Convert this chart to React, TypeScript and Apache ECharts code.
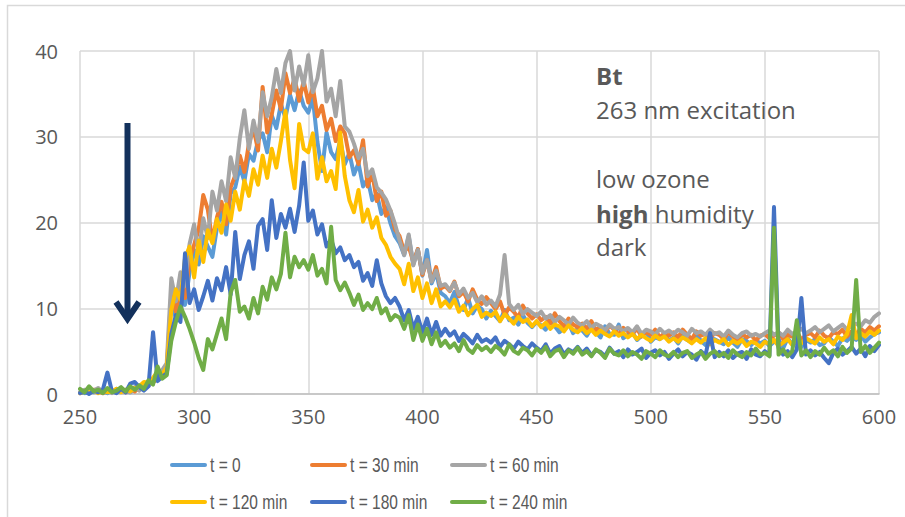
import React, { useEffect, useRef } from "react";
import * as echarts from "echarts";

// Wavelength grid (nm): first sample and spacing of the readings below
const X_START = 250;
const X_STEP = 2;

const X_TICKS = [250, 300, 350, 400, 450, 500, 550, 600];
const Y_TICKS = [0, 10, 20, 30, 40];

const SERIES_NAMES = ["t = 0", "t = 30 min", "t = 60 min", "t = 120 min", "t = 180 min", "t = 240 min"];
const SERIES_COLORS = ["#5B9BD5", "#ED7D31", "#A5A5A5", "#FFC000", "#4472C4", "#70AD47"];

const t0 = [
  0.2, 0.1, 0.4, 0.2, 0.5, 0.3, 0.1, 0.4, 0.2, 0.3,
  0.4, 0.2, 0.6, 0.5, 0.9, 1.1, 1.4, 1.8, 2.2, 2.7,
  10.6, 8.9, 12.0, 10.4, 14.2, 16.8, 15.1, 18.4, 17.2, 16.0,
  19.4, 21.2, 18.6, 23.4, 24.1, 26.5, 24.8, 28.0, 27.2, 29.6,
  30.4, 28.2, 32.5, 31.0, 33.8, 32.2, 34.9, 33.1, 35.4, 33.6,
  32.8, 34.5, 29.4, 26.0, 30.5, 28.2, 27.4, 29.6, 26.8, 28.1,
  25.6, 26.9, 24.2, 25.1, 22.6, 23.4, 21.0, 21.8, 19.9, 18.4,
  17.6, 16.2, 18.4, 15.1, 16.9, 13.8, 16.8, 12.9, 14.2, 11.8,
  11.4, 10.6, 11.9, 10.1, 9.8, 11.2, 9.4, 10.3, 9.9, 8.8,
  9.7, 9.1, 8.5, 9.8, 8.6, 8.9, 8.1, 9.2, 8.3, 7.8,
  8.4, 8.0, 7.5, 8.6, 7.9, 7.2, 7.7, 8.3, 7.1, 7.6,
  7.4, 6.8, 7.7, 7.2, 6.6, 7.9, 7.0, 6.9, 8.1, 6.5,
  6.9, 7.2, 6.3, 6.8, 7.4, 6.1, 6.6, 6.4, 7.0, 6.2,
  6.6, 5.9, 6.8, 6.3, 6.0, 6.9, 6.2, 5.7, 6.5, 6.4,
  6.1, 5.8, 6.6, 6.0, 5.5, 6.4, 6.2, 5.7, 6.3, 5.9,
  6.2, 5.6, 6.1, 6.4, 5.3, 6.5, 5.8, 6.0, 5.5, 6.3,
  6.0, 6.4, 5.7, 5.9, 6.6, 6.1, 5.6, 6.5, 6.2, 6.7,
  6.3, 6.9, 6.1, 6.6, 7.0, 7.2,
];

const t30 = [
  0.1, 0.3, 0.2, 0.5, 0.3, 0.1, 0.4, 0.2, 0.3, 0.5,
  0.2, 0.6, 0.3, 0.8, 1.2, 1.5, 1.3, 2.0, 2.4, 2.9,
  11.8, 9.6, 12.4, 11.2, 15.6, 17.4, 19.2, 23.2, 21.5, 17.8,
  20.6, 22.4, 19.8, 24.1, 25.5, 27.8, 25.9, 29.2, 31.0, 28.4,
  35.8, 30.5, 32.6, 35.4, 33.2, 37.4, 35.1, 36.8, 34.2, 36.5,
  34.0, 35.8, 32.4, 33.6, 30.8, 32.1, 29.5, 31.2, 30.4, 27.6,
  28.4, 26.8, 29.6, 24.2, 25.8, 22.5, 23.6, 20.8, 21.4, 19.2,
  18.4, 16.6, 17.2, 15.4, 16.9, 13.9, 15.6, 13.2, 14.8, 12.3,
  12.6, 12.0, 13.1, 11.4, 11.9, 10.8, 12.2, 11.0, 10.5, 11.3,
  10.6, 9.9, 10.8, 9.2, 10.1, 9.6, 8.9, 10.3, 9.4, 8.8,
  9.3, 8.6, 9.0, 8.2, 9.4, 8.5, 7.9, 8.8, 8.1, 7.8,
  8.2, 7.6, 8.5, 7.4, 7.9, 7.2, 8.0, 7.5, 6.9, 7.7,
  7.3, 7.0, 7.6, 6.7, 7.2, 6.9, 7.5, 6.6, 7.1, 6.8,
  7.2, 6.6, 7.5, 6.9, 6.4, 7.3, 6.8, 7.0, 6.5, 7.1,
  6.9, 6.4, 7.2, 6.7, 6.3, 7.0, 6.6, 6.9, 6.2, 6.8,
  7.0, 6.5, 6.8, 7.2, 6.4, 6.9, 6.7, 7.3, 6.3, 6.9,
  7.1, 6.6, 7.4, 6.8, 6.5, 7.2, 7.0, 7.5, 6.7, 7.3,
  7.0, 7.6, 7.2, 7.8, 7.4, 7.9,
];

const t60 = [
  0.2, 0.5, 0.1, 0.4, 0.7, 0.2, 0.5, 0.1, 0.6, 0.3,
  0.5, 0.2, 0.8, 0.4, 1.1, 0.9, 1.6, 2.2, 2.8, 3.6,
  13.5, 10.8, 14.2, 12.6, 17.5, 19.8, 16.4, 20.5, 18.2, 23.6,
  21.4, 24.8, 22.5, 27.6, 25.2, 29.8, 33.1, 28.6, 31.9, 29.4,
  35.2, 32.4, 34.6, 37.9, 35.1, 38.6, 40.0, 35.4, 38.2, 36.0,
  39.5, 35.2, 36.8, 40.0, 34.1, 35.6, 32.4, 36.5, 31.2, 30.6,
  29.2, 27.5, 28.6, 25.4, 26.2, 24.1, 23.5, 22.7, 21.4, 19.8,
  17.9, 16.2, 18.6, 15.0, 16.8, 14.1, 15.6, 13.1, 14.4, 12.6,
  12.8, 12.1, 13.0, 11.6, 12.3, 11.2, 11.8, 10.7, 11.4, 10.4,
  10.9, 10.2, 11.6, 16.2, 10.5, 9.8, 10.4, 9.3, 9.9, 9.5,
  9.1, 9.6, 8.8, 9.2, 8.4, 9.0, 8.6, 8.1, 8.9, 8.3,
  8.0, 8.5, 7.7, 8.2, 7.9, 7.4, 8.1, 7.6, 7.8, 7.3,
  7.7, 7.2, 7.9, 7.0, 7.5, 7.3, 6.9, 7.6, 7.1, 7.4,
  7.0, 7.5, 7.2, 6.8, 7.6, 7.1, 7.3, 6.9, 7.5, 7.0,
  7.2, 6.7, 7.4, 6.9, 6.6, 7.1, 7.3, 6.8, 7.0, 6.7,
  7.1, 7.4, 6.9, 7.2, 6.8, 7.5, 7.0, 7.3, 7.6, 7.1,
  7.4, 7.8, 7.2, 7.6, 8.0, 7.3, 7.7, 8.1, 7.5, 8.0,
  8.2, 7.9, 8.6, 8.3, 9.0, 9.4,
];

const t120 = [
  0.1, 0.3, 0.2, 0.4, 0.1, 0.5, 0.2, 0.3, 0.6, 0.2,
  0.5, 0.3, 0.7, 0.9, 1.4, 1.2, 1.9, 2.6, 2.3, 3.1,
  9.8, 12.2, 11.0, 15.8, 17.2, 13.6, 17.9, 15.4, 19.1, 17.6,
  20.4, 18.8, 22.1, 20.2, 23.6, 21.5, 24.9, 23.1, 26.2, 24.4,
  27.8, 25.2, 28.6, 26.4, 29.5, 33.0, 27.3, 24.0, 31.5, 28.6,
  28.2, 30.4, 25.1, 27.6, 24.8, 26.0, 23.9, 30.5, 25.4, 22.6,
  21.2, 23.8, 20.1, 21.5, 19.4, 20.6, 18.2, 17.4, 16.0, 15.2,
  14.6, 12.8, 15.2, 12.0, 13.6, 11.2, 12.9, 10.6, 12.2, 10.2,
  10.8, 10.1, 11.0, 9.6, 10.3, 9.2, 9.9, 10.4, 9.0, 9.5,
  9.1, 9.6, 8.5, 9.3, 8.8, 8.2, 9.0, 8.4, 8.7, 7.9,
  8.5, 7.8, 8.3, 7.6, 8.1, 7.9, 7.3, 8.0, 7.5, 7.2,
  7.7, 7.1, 7.5, 6.9, 7.4, 7.0, 6.7, 7.3, 6.8, 7.1,
  6.6, 7.0, 6.4, 6.9, 6.5, 6.2, 6.8, 6.4, 6.7, 6.1,
  6.5, 6.1, 6.6, 6.3, 5.9, 6.4, 6.0, 6.5, 5.8, 6.3,
  6.0, 6.4, 5.7, 6.2, 5.9, 6.3, 5.6, 6.1, 5.9, 5.5,
  6.1, 5.8, 6.3, 5.6, 6.0, 6.4, 5.7, 6.2, 5.9, 6.5,
  6.2, 5.9, 6.6, 6.1, 6.4, 5.8, 6.7, 6.3, 7.0, 9.2,
  6.5, 7.1, 6.7, 7.3, 6.9, 7.4,
];

const t180 = [
  0.1, 0.3, 0.0, 0.4, 0.2, 0.5, 2.5, 0.3, 0.1, 0.6,
  0.2, 1.2, 1.4, 0.8, 0.4, 0.9, 7.2, 1.5, 2.0, 2.4,
  7.0, 9.2, 8.4, 16.4, 10.6, 12.2, 9.8, 11.4, 13.2, 10.9,
  13.5, 12.1, 14.8, 11.6, 18.9, 13.4, 16.2, 17.8, 14.6, 19.6,
  20.4, 16.8, 22.6, 18.2, 21.0, 19.4, 21.6, 18.9, 22.0, 27.0,
  20.2, 21.4, 18.6, 19.8, 17.2, 18.0, 16.4, 17.1, 15.6, 16.2,
  14.8, 15.4, 13.2, 14.1, 12.6, 15.6, 12.9, 11.4, 10.6, 11.2,
  10.2, 8.6, 9.8, 7.6, 9.0, 7.2, 8.8, 6.9, 8.4, 6.8,
  7.6, 6.8, 7.3, 6.2, 7.0, 6.5, 5.9, 6.9, 6.1, 6.4,
  6.0, 6.6, 5.5, 6.2, 5.8, 5.3, 6.1, 5.6, 5.2, 5.9,
  5.4, 5.0, 5.8, 4.7, 5.3, 5.6, 4.6, 5.2, 4.9, 5.5,
  4.8, 5.3, 4.5, 5.1, 4.9, 4.4, 5.4, 4.7, 5.0, 4.3,
  5.2, 4.6, 4.9, 5.3, 4.2, 4.8, 5.1, 4.5, 4.9, 4.1,
  4.7, 5.2, 4.4, 4.9, 4.6, 4.0, 5.0, 4.5, 7.1, 4.3,
  4.9, 4.4, 5.1, 4.2, 4.7, 4.9, 4.1, 5.2, 4.6, 4.4,
  5.0, 4.5, 21.8, 5.4, 4.6, 5.0, 4.3, 5.2, 11.2, 4.6,
  5.1, 4.5, 4.9, 4.2, 3.6, 4.8, 5.3, 4.6, 5.0, 5.5,
  4.7, 5.3, 4.4, 5.6, 5.0, 5.7,
];

const t240 = [
  0.6, 0.2, 0.9, 0.3, 0.5, 0.1, 0.7, 0.2, 0.4, 0.8,
  0.3, 0.9, 0.5, 1.0, 0.6, 1.6, 1.1, 3.2, 1.8, 2.2,
  6.2, 8.4, 10.2, 9.0, 7.6, 6.0, 4.2, 2.8, 6.4, 5.2,
  7.0, 8.8, 6.4, 11.8, 13.3, 9.6, 10.2, 8.8, 11.2, 9.4,
  12.5, 11.0, 13.6, 12.2, 14.0, 18.8, 13.6, 16.0, 14.8, 15.6,
  14.5, 16.2, 13.8, 14.6, 12.9, 19.5, 13.3, 12.1, 13.0, 11.8,
  10.4, 11.6, 9.8, 10.6, 9.9, 11.2, 9.4, 10.0, 8.6, 9.2,
  8.9, 7.6, 9.2, 6.3, 8.1, 6.2, 7.6, 5.8, 7.2, 5.6,
  6.2, 5.4, 5.9, 5.0, 6.3, 5.2, 4.8, 5.7, 5.1, 5.5,
  4.9, 5.6, 5.2, 4.6, 5.8, 5.0, 4.7, 5.4, 5.1, 4.5,
  5.3, 4.8, 5.5, 4.4, 5.0, 5.2, 4.3, 5.1, 4.7, 5.4,
  4.6, 5.0, 4.4, 5.2, 4.8, 4.2, 5.3, 4.7, 4.5, 5.1,
  4.4, 4.9, 4.6, 4.1, 5.0, 4.7, 4.3, 5.1, 4.6, 4.4,
  4.9, 4.3, 4.8, 5.0, 4.2, 4.6, 4.9, 4.1, 4.7, 5.0,
  4.4, 4.8, 4.2, 5.1, 4.6, 4.3, 4.9, 4.5, 5.3, 4.6,
  4.8, 4.4, 19.4, 4.6, 5.2, 4.4, 5.0, 8.6, 4.5, 5.1,
  4.3, 5.0, 4.6, 5.4, 4.7, 5.1, 4.4, 5.5, 4.8, 5.3,
  13.3, 4.9, 5.6, 4.8, 5.4, 6.0,
];

const SERIES_VALUES = [t0, t30, t60, t120, t180, t240];

// Legend layout: column of each series (0..2) and row (0..1)
const LEGEND_COL = [0, 1, 2, 0, 1, 2];
const LEGEND_ROW = [0, 0, 0, 1, 1, 1];

const TEXT_COLOR = "#595959";
const AXIS_FONT = "'Open Sans', 'Noto Sans', sans-serif";
const LEGEND_FONT = "'Liberation Sans', Arial, sans-serif";

export default function App() {
  const ref = useRef<HTMLDivElement>(null);

  useEffect(() => {
    if (!ref.current) return;
    const chart = echarts.init(ref.current, undefined, { renderer: "svg" });

    const series = SERIES_NAMES.map((name, k) => ({
      name,
      type: "line",
      showSymbol: false,
      symbol: "none",
      data: SERIES_VALUES[k].map((v, i) => [X_START + i * X_STEP, v]),
      lineStyle: { color: SERIES_COLORS[k], width: 4, join: "round", cap: "round" },
      itemStyle: { color: SERIES_COLORS[k] },
      z: 2 + k,
    }));

    const legendItems: any[] = [];
    SERIES_NAMES.forEach((name, k) => {
      const lx = 170 + LEGEND_COL[k] * 140;
      const ly = 465 + LEGEND_ROW[k] * 37;
      legendItems.push({
        type: "rect",
        shape: { x: lx, y: ly - 2, width: 37, height: 4, r: 2 },
        style: { fill: SERIES_COLORS[k] },
        silent: true,
      });
      legendItems.push({
        type: "text",
        x: lx + 40,
        y: ly,
        scaleX: 0.74,
        style: {
          text: name,
          fill: TEXT_COLOR,
          fontSize: 21,
          fontFamily: LEGEND_FONT,
          verticalAlign: "middle",
        },
        silent: true,
      });
    });

    const annotation = (text: string, y: number, bold = false) => ({
      type: "text",
      x: 596,
      y,
      style: {
        text,
        fill: TEXT_COLOR,
        fontSize: 24,
        fontWeight: bold ? "bold" : "normal",
        fontFamily: AXIS_FONT,
        verticalAlign: "middle",
        rich: { b: { fontWeight: "bold", fontSize: 24, fontFamily: AXIS_FONT, fill: TEXT_COLOR } },
      },
      z: 100,
    });

    const option = {
      animation: false,
      grid: { left: 80, right: 26, top: 51, bottom: 123, containLabel: false },
      xAxis: {
        type: "value",
        min: X_TICKS[0],
        max: X_TICKS[X_TICKS.length - 1],
        interval: 50,
        axisLine: { show: true, lineStyle: { color: "#bfbfbf", width: 1.5 } },
        axisTick: { show: false },
        axisLabel: { color: TEXT_COLOR, fontSize: 20, fontFamily: AXIS_FONT, margin: 12 },
        splitLine: { show: true, lineStyle: { color: "#d9d9d9", width: 1.5 } },
      },
      yAxis: {
        type: "value",
        min: Y_TICKS[0],
        max: Y_TICKS[Y_TICKS.length - 1],
        interval: 10,
        axisLine: { show: false },
        axisTick: { show: false },
        axisLabel: { color: TEXT_COLOR, fontSize: 20, fontFamily: AXIS_FONT, margin: 22 },
        splitLine: { show: true, lineStyle: { color: "#d9d9d9", width: 1.5 } },
      },
      graphic: [
        {
          type: "rect",
          shape: { x: 7.5, y: 5.5, width: 1000, height: 1000 },
          style: { fill: "none", stroke: "#d9d9d9", lineWidth: 1.5 },
          silent: true,
          z: -1,
        },
        {
          type: "line",
          shape: { x1: 127.5, y1: 123, x2: 127.5, y2: 316 },
          style: { stroke: "#13315C", lineWidth: 6 },
          z: 100,
        },
        {
          type: "polyline",
          shape: { points: [[116, 302], [127.5, 319], [139, 302]] },
          style: { stroke: "#13315C", lineWidth: 6, fill: "none", lineJoin: "miter" },
          z: 100,
        },
        annotation("Bt", 75, true),
        annotation("263 nm excitation", 109),
        annotation("low ozone", 178),
        annotation("{b|high} humidity", 213),
        annotation("dark", 246),
        ...legendItems,
      ],
      series,
    };

    chart.setOption(option as any);
    return () => chart.dispose();
  }, []);

  return <div ref={ref} style={{ width: 905, height: 517, position: "absolute", left: 0, top: 0, background: "#fff" }} />;
}
